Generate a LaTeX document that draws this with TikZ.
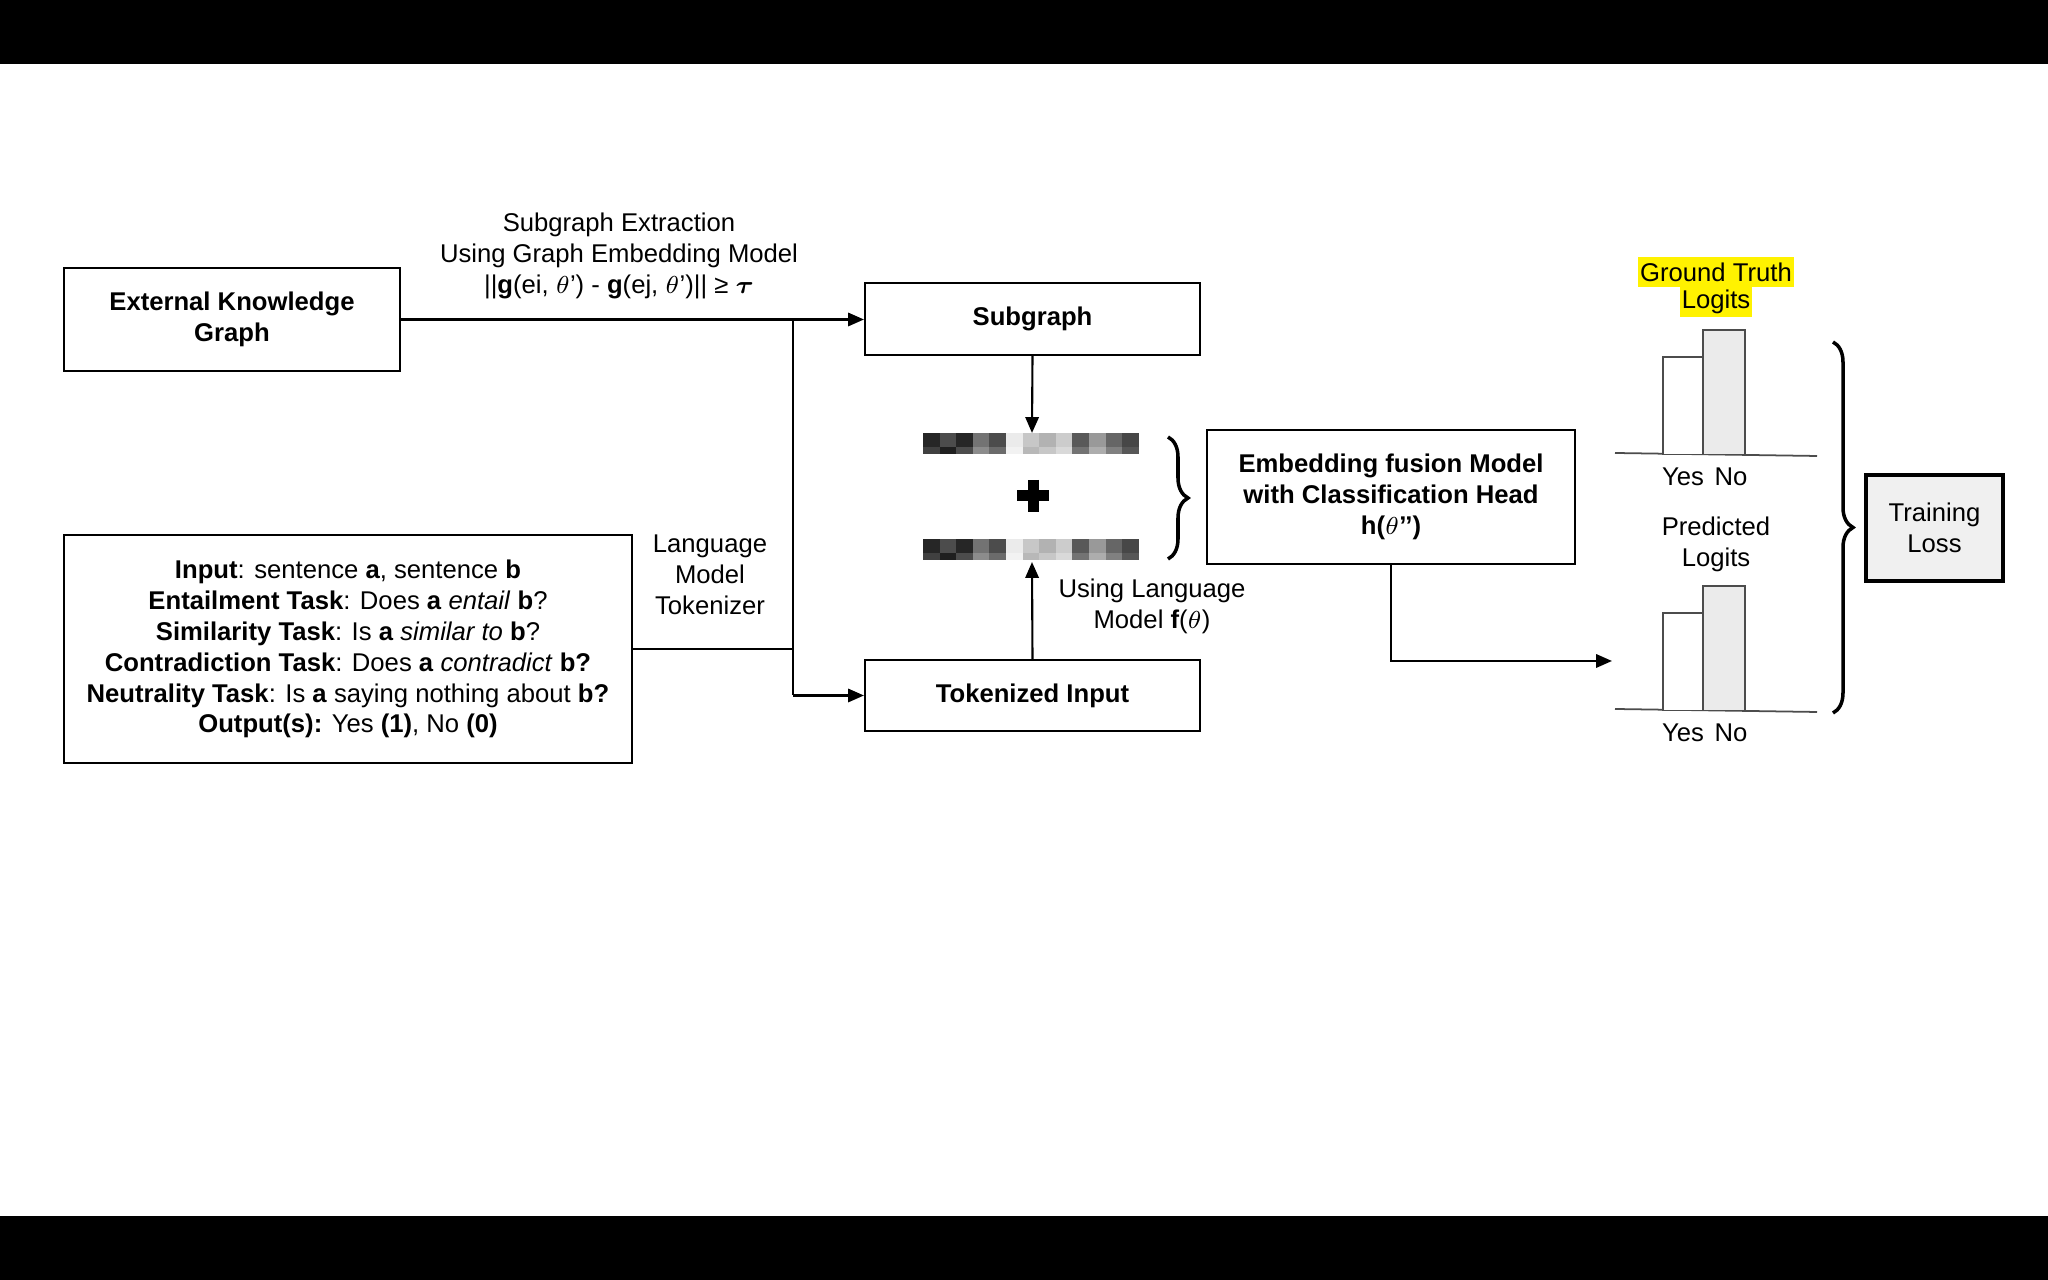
\documentclass[tikz,border=0pt]{standalone}
\usepackage{fontspec}
\setmainfont{Liberation Sans}
\usepackage{amsmath}
\usepackage{bm}
\usetikzlibrary{arrows.meta}
\usetikzlibrary{decorations.pathreplacing}

\begin{document}
\begin{tikzpicture}[>={Triangle[length=4.5pt,width=3.8pt]},line width=0.6pt,
  box/.style={draw,line width=0.6pt,align=center,inner sep=0pt},
  bar/.style={draw=black!70,line width=0.5pt},
  curly/.style={line width=1pt,decorate,decoration={brace,amplitude=0.2cm}},
  mark yellow/.style={fill=yellow,inner sep=0.5pt,minimum height=0.30cm}]
\fontsize{7.3}{8.8}\selectfont
\useasboundingbox (0,0) rectangle (20.48,-12.8);
\fill[white] (0,0) rectangle (20.48,-12.8);
\fill[black] (0,0) rectangle (20.48,-0.64);
\fill[black] (0,-12.16) rectangle (20.48,-12.8);
% boxes
\node[box,minimum width=3.36cm,minimum height=1.03cm,font=\bfseries] (ekg) at (2.32,-3.195) {External Knowledge\\Graph};
\node[box,minimum width=5.68cm,minimum height=2.28cm] (task) at (3.48,-6.49) {\textbf{Input}: sentence \textbf{a}, sentence \textbf{b}\\
  \textbf{Entailment Task}: Does \textbf{a} \textit{entail} \textbf{b}?\\
  \textbf{Similarity Task}: Is \textbf{a} \textit{similar to} \textbf{b}?\\
  \textbf{Contradiction Task}: Does \textbf{a} \textit{contradict} \textbf{b?}\\
  \textbf{Neutrality Task}: Is \textbf{a} saying nothing about \textbf{b?}\\
  \textbf{Output(s):} Yes \textbf{(1)}, No \textbf{(0)}};
\node[box,minimum width=3.35cm,minimum height=0.72cm,font=\bfseries] (subg) at (10.325,-3.19) {Subgraph};
\node[box,minimum width=3.35cm,minimum height=0.71cm,font=\bfseries] (tok) at (10.325,-6.955) {Tokenized Input};
\node[box,minimum width=3.68cm,minimum height=1.34cm,font=\bfseries] (fuse) at (13.91,-4.97) {Embedding fusion Model\\with Classification Head\\h($\theta$’’)};
\node[box,line width=1.3pt,fill=black!6,minimum width=1.37cm,minimum height=1.06cm] (loss) at (19.345,-5.28) {Training\\Loss};
% labels
\node[align=center] (extr) at (6.19,-2.56) {Subgraph Extraction\\Using Graph Embedding Model\\||\textbf{g}(ei, $\theta$’) - \textbf{g}(ej, $\theta$’)|| ≥ $\bm{\tau}$};
\node[align=center] (lmtok) at (7.10,-5.75) {Language\\Model\\Tokenizer};
\node[align=center] (ulm) at (11.52,-6.06) {Using Language\\Model \textbf{f}($\theta$)};
% embeddings
\node[minimum width=2.16cm,minimum height=0.21cm,inner sep=0] (embg) at (10.32,-4.445) {};
\node[minimum width=2.16cm,minimum height=0.21cm,inner sep=0] (embt) at (10.32,-5.505) {};
\foreach \b in {embg,embt} {
  \foreach \g [count=\i from 0] in {85,70,85,55,70,8,22,30,20,65,40,60,72}
    \fill[black!\g] ([xshift=\i*0.166cm]\b.north west) rectangle ++(0.166,-0.14);
  \foreach \g [count=\i from 0] in {75,88,70,45,58,5,28,22,15,55,32,50,66}
    \fill[black!\g] ([xshift=\i*0.166cm,yshift=-0.14cm]\b.north west) rectangle ++(0.166,-0.07);
}
\draw[line width=0.11cm] (10.17,-4.96) -- (10.49,-4.96) (10.33,-4.80) -- (10.33,-5.12);
\draw[curly] (11.68,-4.37) -- (11.68,-5.59);
% connectors
\coordinate (split) at (7.93,-3.19);
\coordinate (predin) at (16.12,-6.61);
\draw[->] (ekg.east) -- (ekg.east -| subg.west);
\draw (task.east) -- (task.east -| split);
\draw (split) -- (split |- tok.west);
\draw[->] (split |- tok.west) -- (tok.west);
\draw[->] (subg.south) -- (embg.north);
\draw[->] (tok.north) -- (embt.south);
\draw[->] (fuse.south) |- (predin);
% logits
\foreach \dy/\nm in {0/gt,-2.56/pr} {
  \begin{scope}[yshift=\dy cm]
  \draw[bar] (16.15,-4.53) -- (18.17,-4.56);
  \draw[bar,fill=white] (16.63,-4.545) rectangle (17.03,-3.57);
  \draw[bar,fill=black!8] (17.03,-4.545) rectangle (17.45,-3.30);
  \node (yes\nm) at (16.83,-4.77) {Yes};
  \node (no\nm) at (17.31,-4.77) {No};
  \end{scope}
}
\node[mark yellow] (gt1) at (17.16,-2.72) {Ground Truth};
\node[mark yellow] (gt2) at (17.16,-3.02) {Logits};
\node[align=center] (predl) at (17.16,-5.44) {Predicted\\Logits};
\draw[curly] (18.33,-3.42) -- (18.33,-7.13);
\end{tikzpicture}
\end{document}
